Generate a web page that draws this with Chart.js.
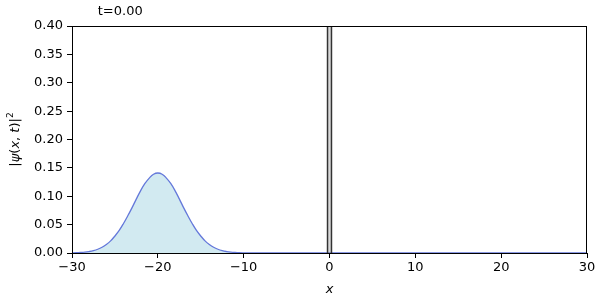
<!DOCTYPE html>
<html>
<head>
<meta charset="utf-8">
<script src="https://cdn.jsdelivr.net/npm/chart.js@4/dist/chart.umd.min.js"></script>
<style>
  body { margin: 0; background: #fff; }
  #wrap { width: 600px; height: 300px; }
</style>
</head>
<body>
<div id="wrap"><canvas id="waveChart" width="600" height="300"></canvas></div>
<script>
// wave packet |psi|^2 (t = 0)
const xPos = [-30, -29.5, -29, -28.5, -28, -27.5, -27, -26.5, -26, -25.5, -25, -24.5, -24, -23.5, -23, -22.5, -22, -21.5, -21, -20.5,
              -20, -19.5, -19, -18.5, -18, -17.5, -17, -16.5, -16, -15.5, -15, -14.5, -14, -13.5, -13, -12.5, -12, -11.5, -11, -10.5,
              -10, -9, 0, 10, 20, 30];
const density = [0.0003, 0.0005, 0.0009, 0.0015, 0.0026, 0.0042, 0.0066, 0.0101, 0.015, 0.0213, 0.030, 0.0398, 0.052, 0.0656, 0.080, 0.0954, 0.110, 0.1225, 0.132, 0.1388,
                 0.141, 0.1388, 0.132, 0.1225, 0.110, 0.0954, 0.080, 0.0656, 0.052, 0.0398, 0.030, 0.0213, 0.015, 0.0101, 0.0066, 0.0042, 0.0026, 0.0015, 0.0009, 0.0005,
                 0.0003, 0, 0, 0, 0, 0];

// barrier outline (goes off the top of the plot)
const barrierX = [-0.23, -0.23, 0.23, 0.23];
const barrierY = [0, 1, 1, 0];

const xTicks = [-30, -20, -10, 0, 10, 20, 30];
const yTicks = [0, 0.05, 0.1, 0.15, 0.2, 0.25, 0.3, 0.35, 0.4];
const timeLabel = 't=0.00';

const FONT = 'DejaVu Sans';
Chart.defaults.font.family = FONT;
Chart.defaults.font.size = 13;
Chart.defaults.color = '#000';

const pts = (xs, ys) => xs.map((x, i) => ({ x: x, y: ys[i] }));

// frame + texts matplotlib style
const decorations = {
  id: 'decorations',
  afterDraw(chart) {
    const ctx = chart.ctx;
    const a = chart.chartArea;
    ctx.save();
    ctx.strokeStyle = '#000';
    ctx.lineWidth = 1;
    ctx.strokeRect(a.left + 0.5, a.top + 0.5, a.right - a.left - 1, a.bottom - a.top);

    // time label
    ctx.fillStyle = '#000';
    ctx.font = '13px ' + FONT;
    ctx.textBaseline = 'alphabetic';
    ctx.textAlign = 'left';
    ctx.fillText(timeLabel, a.left + 0.05 * (a.right - a.left), 15);

    // x label
    ctx.font = 'italic 13px ' + FONT;
    ctx.textAlign = 'center';
    ctx.fillText('x', (a.left + a.right) / 2, 293);

    // y label, mixed italic
    const parts = [
      ['|', 'normal', 13, 0], ['ψ', 'italic', 13, 0], ['(', 'normal', 13, 0], ['x', 'italic', 13, 0],
      [', ', 'normal', 13, 0], ['t', 'italic', 13, 0], [')|', 'normal', 13, 0], ['2', 'normal', 9, -6]
    ];
    let total = 0;
    parts.forEach(p => { ctx.font = p[1] + ' ' + p[2] + 'px ' + FONT; total += ctx.measureText(p[0]).width; });
    ctx.translate(19, (a.top + a.bottom) / 2);
    ctx.rotate(-Math.PI / 2);
    ctx.textAlign = 'left';
    let cx = -total / 2;
    parts.forEach(p => {
      ctx.font = p[1] + ' ' + p[2] + 'px ' + FONT;
      ctx.fillText(p[0], cx, p[3]);
      cx += ctx.measureText(p[0]).width;
    });
    ctx.restore();
  }
};

new Chart(document.getElementById('waveChart'), {
  type: 'scatter',
  data: {
    datasets: [
      {
        label: 'barrier',
        data: pts(barrierX, barrierY),
        showLine: true,
        borderColor: '#333',
        borderWidth: 1.5,
        backgroundColor: 'rgba(128,128,128,0.3)',
        fill: 'origin',
        pointRadius: 0,
        tension: 0
      },
      {
        label: '|psi|^2',
        data: pts(xPos, density),
        showLine: true,
        borderColor: '#6478da',
        borderWidth: 1.3,
        backgroundColor: 'rgba(173,216,230,0.55)',
        fill: 'origin',
        pointRadius: 0,
        tension: 0.4
      }
    ]
  },
  options: {
    responsive: false,
    animation: false,
    devicePixelRatio: 1,
    layout: { padding: { top: 26, right: 13, left: 0, bottom: 0 } },
    plugins: { legend: { display: false }, tooltip: { enabled: false } },
    scales: {
      x: {
        type: 'linear',
        min: -30, max: 30,
        afterBuildTicks: s => { s.ticks = xTicks.map(v => ({ value: v })); },
        afterFit: s => { s.height = 47; },
        grid: { drawOnChartArea: false, drawTicks: true, tickLength: 5, color: '#000', lineWidth: 1 },
        border: { display: true, color: '#000', width: 1 },
        ticks: { padding: 2, maxRotation: 0, callback: v => String(v).replace('-', '\u2212') }
      },
      y: {
        type: 'linear',
        min: 0, max: 0.4,
        afterBuildTicks: s => { s.ticks = yTicks.map(v => ({ value: v })); },
        afterFit: s => { s.width = 72; },
        grid: { drawOnChartArea: false, drawTicks: true, tickLength: 5, color: '#000', lineWidth: 1 },
        border: { display: true, color: '#000', width: 1 },
        ticks: { padding: 4, callback: v => v.toFixed(2) }
      }
    }
  },
  plugins: [decorations]
});
</script>
</body>
</html>
